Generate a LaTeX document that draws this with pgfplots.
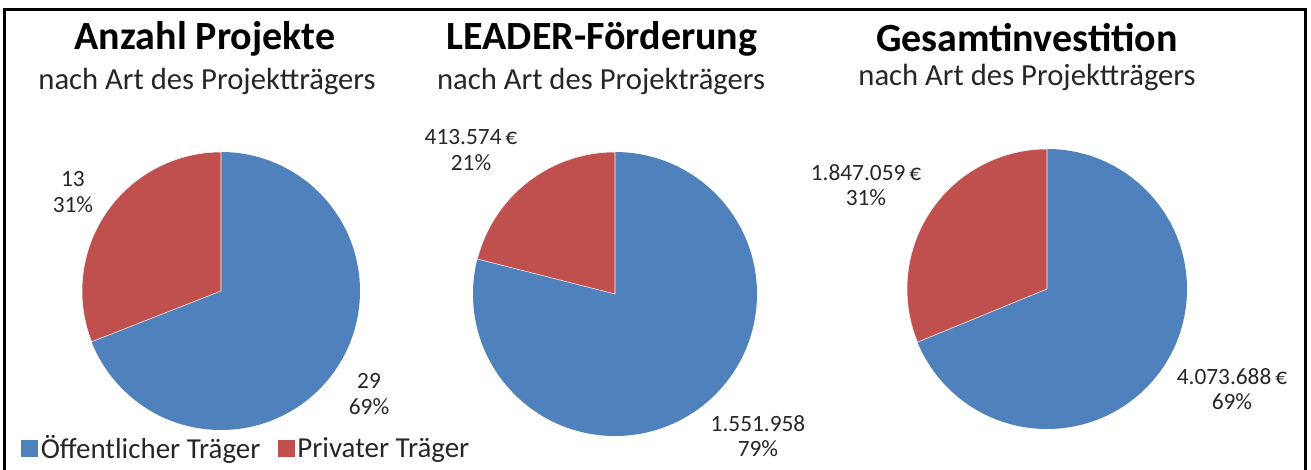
\documentclass[border=0pt]{standalone}
\usepackage{fontspec}
\setmainfont{Carlito}
\usepackage{pgfplots}
\usepackage{pgfplotstable}
\pgfplotsset{compat=1.18}
\definecolor{oeff}{RGB}{79,129,189}
\definecolor{priv}{RGB}{192,80,77}
\definecolor{txt}{RGB}{38,38,38}

% Projekte, LEADER-Förderung (EUR), Gesamtinvestition (EUR)
\pgfplotstableread{
nr oeffentlich privat
1  29          13
2  1551958     413574
3  4073688     1847059
}\pietable

% row -> \angend (end angle of the private sector, starting at 12 o'clock)
\newcommand\getshare[1]{%
  \pgfplotstablegetelem{#1}{oeffentlich}\of\pietable\let\vo\pgfplotsretval
  \pgfplotstablegetelem{#1}{privat}\of\pietable\let\vp\pgfplotsretval
  \edef\angend{\fpeval{90+360*\vp/(\vo+\vp)}}}

\newcommand\drawpie{%
  \fill[oeff] (axis cs:0,0) circle[radius=1];
  \filldraw[priv, draw=white, line width=0.4pt] (axis cs:0,0) -- (axis cs:0,1)
    arc[start angle=90, end angle=\angend, radius=1] -- cycle;}

\pgfplotsset{pie/.style={hide axis, clip=false, anchor=center,
    xmin=-1, xmax=1, ymin=-1, ymax=1}}
\tikzset{lbl/.style={font=\fontsize{17.5}{19}\selectfont, text=txt, align=center}}

\newcommand\ttl{\fontsize{30}{32}\selectfont\bfseries}
\newcommand\sub{\fontsize{23}{26}\selectfont}

\begin{document}
\begin{tikzpicture}[x=0.75pt, y=0.75pt]
\useasboundingbox (0,0) rectangle (1311,470);
\draw[line width=2.2pt] (4.5,0) -- (4.5,460.5) -- (1305.5,460.5) -- (1305.5,0);

% titles
\node[anchor=base, text=black] at (205,420) {\ttl Anzahl Projekte};
\node[anchor=base, text=txt] at (207,380) {\sub nach Art des Projektträgers};
\node[anchor=base, text=black] at (602,420) {\ttl LEADER-Förderung};
\node[anchor=base, text=txt] at (601,380) {\sub nach Art des Projekträgers};
\node[anchor=base, text=black] at (1027,418) {\ttl Gesamtinvestition};
\node[anchor=base, text=txt] at (1027,384) {\sub nach Art des Projektträgers};

% Anzahl Projekte
\getshare{0}
\begin{axis}[pie, at={(165.75pt,134.25pt)}, x=104.25pt, y=104.25pt,
    legend columns=2,
    legend image code/.code={\fill (0pt,-6.4pt) rectangle (12.75pt,6.4pt);},
    legend style={at={(axis description cs:-0.22,-0.065)}, anchor=west,
      draw=none, fill=none, inner sep=0pt, text=txt,
      font=\fontsize{21.7}{25}\selectfont,
      /tikz/every even column/.append style={column sep=11pt}}]
  \addlegendimage{fill=oeff, draw=none}
  \addlegendentry{Öffentlicher Träger}
  \addlegendimage{fill=priv, draw=none}
  \addlegendentry{Privater Träger}
  \drawpie
  \node[lbl] at (axis cs:-1.065,0.712) {13\\31\%};
  \node[lbl] at (axis cs:1.065,-0.741) {29\\69\%};
\end{axis}

% LEADER-Förderung
\getshare{1}
\begin{axis}[pie, at={(461.25pt,132pt)}, x=106.5pt, y=106.5pt]
  \drawpie
  \node[lbl] at (axis cs:-1.014,1.014) {413.574\,€\\21\%};
  \node[lbl] at (axis cs:1.007,-1.0) {1.551.958\\79\%};
\end{axis}

% Gesamtinvestition
\getshare{2}
\begin{axis}[pie, at={(785.25pt,135.75pt)}, x=105pt, y=105pt]
  \drawpie
  \node[lbl] at (axis cs:-1.293,0.743) {1.847.059\,€\\31\%};
  \node[lbl] at (axis cs:1.321,-0.714) {4.073.688\,€\\69\%};
\end{axis}
\end{tikzpicture}
\end{document}
